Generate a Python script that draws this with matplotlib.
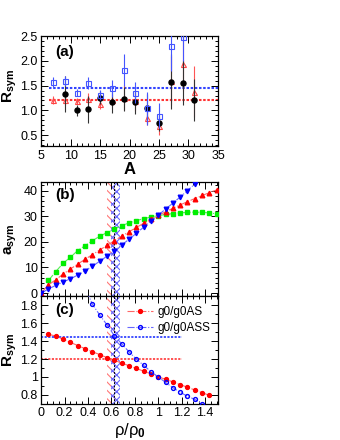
import matplotlib
matplotlib.use("Agg")
import matplotlib.pyplot as plt
from matplotlib.ticker import MultipleLocator
import numpy as np

plt.rcParams['font.family'] = ['Liberation Sans', 'DejaVu Sans']
plt.rcParams['mathtext.fontset'] = 'custom'
plt.rcParams['mathtext.rm'] = 'Liberation Sans'
plt.rcParams['mathtext.it'] = 'Liberation Sans:italic'
plt.rcParams['mathtext.bf'] = 'Liberation Sans:bold'
plt.rcParams['hatch.linewidth'] = 0.8

nan = np.nan

# (a) R_sym against mass number
mass = [7, 9, 11, 13, 15, 17, 19, 21, 23, 25, 27, 29, 31]
r_circ = [nan, 1.33, 1.00, 1.02, 1.26, 1.16, 1.23, 1.16, 1.04, 0.74, 1.58, 1.56, 1.21]
r_circ_err = [nan, 0.36, 0.11, 0.28, 0.13, 0.22, 0.25, 0.23, 0.30, 0.16, 0.55, 0.45, 0.43]
r_tri = [1.21, 1.21, 1.19, 1.24, 1.12, 1.21, 1.26, 1.18, 0.85, 0.69, 1.60, 1.94, 1.38]
r_tri_err = [0.08, 0.10, 0.07, 0.12, 0.10, 0.12, 0.25, 0.20, 0.15, 0.18, 0.50, 0.55, 0.52]
r_sq = [1.58, 1.60, 1.36, 1.55, 1.31, 1.45, 1.81, 1.36, 1.04, 0.89, 2.30, 2.49, nan]
r_sq_err = [0.10, 0.10, 0.07, 0.12, 0.10, 0.17, 0.32, 0.22, 0.33, 0.25, 0.50, 0.50, nan]
r_mean_sq = 1.45
r_mean_tri = 1.20

# (b) a_sym against density, step 1/16
rho = np.arange(25) / 16.0
a_green = [nan, 4.9, 8.4, 11.6, 14.0, 16.6, 18.5, 20.4, 22.2, 23.6, 25.0, 26.3, 27.4,
           28.3, 29.0, 29.7, 30.2, 30.7, 31.0, 31.3, 31.5, 31.6, 31.5, 31.3, 30.9]
a_red = [0.0, 3.2, 5.2, 7.4, 9.4, 11.3, 13.2, 15.0, 16.8, 18.6, 20.4, 22.2, 23.9,
         25.6, 27.2, 28.8, 30.3, 31.7, 33.1, 34.4, 35.7, 36.9, 38.1, 39.2, 40.3]
a_blue = [0.0, 1.6, 3.0, 4.3, 5.6, 7.0, 8.7, 10.5, 12.4, 14.4, 16.4, 18.7, 21.0,
          23.3, 25.7, 28.1, 30.4, 32.8, 35.1, 37.5, 40.0, 42.6, 45.2, 47.8, 50.4]

# (c) ratios
rc_as = [nan, 1.475, 1.455, 1.42, 1.385, 1.35, 1.315, 1.28, 1.25, 1.215, 1.185, 1.155, 1.125,
         1.095, 1.065, 1.035, 1.0, 0.975, 0.945, 0.915, 0.885, 0.855, 0.825, 0.795, nan]
rc_ass = [nan, 3.2, 2.8, 2.6, 2.4, 2.2, 2.0, 1.81, 1.69, 1.58, 1.46, 1.37, 1.28,
          1.20, 1.13, 1.06, 1.0, 0.94, 0.88, 0.83, 0.785, 0.75, 0.70, 0.66, nan]

band_red = (0.56, 0.64)
band_blue = (0.60, 0.67)
rho_mark = 0.62

RED = '#ff0000'
BLUE = '#0000ff'
GREEN = '#00ee00'


def root_ticks(ax, xmaj, xmin, ymaj, ymin):
    ax.xaxis.set_major_locator(MultipleLocator(xmaj))
    ax.xaxis.set_minor_locator(MultipleLocator(xmin))
    ax.yaxis.set_major_locator(MultipleLocator(ymaj))
    ax.yaxis.set_minor_locator(MultipleLocator(ymin))
    ax.tick_params(which='both', direction='in', top=True, right=True, labelsize=9, width=0.7, pad=2.5)
    ax.tick_params(which='major', length=5)
    ax.tick_params(which='minor', length=2.5)
    for s in ax.spines.values():
        s.set_linewidth(0.9)


fig = plt.figure(figsize=(3.4, 4.4), dpi=100)
ax_a = fig.add_axes([0.121, 0.668, 0.520, 0.250])
ax_b = fig.add_axes([0.121, 0.327, 0.520, 0.259])
ax_c = fig.add_axes([0.121, 0.082, 0.520, 0.245], sharex=ax_b)

# panel (a)
ax_a.hlines(r_mean_sq, 6.3, 35, colors='#3344ff', linestyles=(0, (1.2, 0.8)), lw=1.5, zorder=1)
ax_a.hlines(r_mean_tri, 6.3, 35, colors='#ff3333', linestyles=(0, (1.2, 0.8)), lw=1.5, zorder=1)
ax_a.errorbar(mass, r_tri, yerr=r_tri_err, fmt='^', ms=3.6, mfc='none', mec='#ff4444',
              ecolor='#ff5555', elinewidth=0.8, mew=0.8, zorder=3)
ax_a.errorbar(mass, r_circ, yerr=r_circ_err, fmt='o', ms=3.6, color='k',
              ecolor='#333333', elinewidth=0.8, zorder=4)
ax_a.errorbar(mass, r_sq, yerr=r_sq_err, fmt='s', ms=3.6, mfc='none', mec='#4455ff',
              ecolor='#4455ff', elinewidth=0.8, mew=0.8, zorder=5)
ax_a.set_xlim(5, 35)
ax_a.set_ylim(0.28, 2.5)
root_ticks(ax_a, 5, 1, 0.5, 0.1)
ax_a.set_xlabel('A', fontsize=12, fontweight='bold', labelpad=0)
ax_a.set_ylabel(r'R$_{\mathbf{sym}}$', fontsize=11, fontweight='bold')
ax_a.yaxis.set_label_coords(-0.125, 0.55)
ax_a.text(0.08, 0.92, '(a)', transform=ax_a.transAxes, fontsize=11, fontweight='bold', va='top')

# panel (b)
for ax in (ax_b, ax_c):
    ax.axvspan(*band_red, facecolor='none', edgecolor='#ff7777', hatch='\\\\\\\\', lw=0, zorder=0)
    ax.axvspan(*band_blue, facecolor='none', edgecolor='#6666ff', hatch='xxxx', lw=0, zorder=0)
    ax.axvline(rho_mark, color='k', ls=(0, (2, 1.5)), lw=0.7, zorder=0.5)

ax_b.plot(rho, a_green, ls='-.', lw=0.8, color='#55ee55', marker='s', ms=3.3, mfc=GREEN, mec=GREEN, zorder=3)
ax_b.plot(rho, a_red, ls='-.', lw=0.8, color='#ff6666', marker='^', ms=3.3, mfc=RED, mec=RED, zorder=3)
ax_b.plot(rho, a_blue, ls='-.', lw=0.8, color='#6666ff', marker='v', ms=3.3, mfc=BLUE, mec=BLUE, zorder=3)
ax_b.set_ylim(-1.2, 43.3)
root_ticks(ax_b, 0.2, 0.05, 10, 2)
ax_b.tick_params(labelbottom=False)
ax_b.set_ylabel(r'a$_{\mathbf{sym}}$', fontsize=11, fontweight='bold')
ax_b.yaxis.set_label_coords(-0.125, 0.5)
ax_b.text(0.08, 0.95, '(b)', transform=ax_b.transAxes, fontsize=11, fontweight='bold', va='top')

# panel (c)
ax_c.hlines(r_mean_sq, 0, 1.2, colors='#3344ff', linestyles=(0, (1.2, 0.8)), lw=1.3, zorder=1)
ax_c.hlines(r_mean_tri, 0, 1.2, colors='#ff4444', linestyles=(0, (1.2, 0.8)), lw=1.3, zorder=1)
ax_c.plot(rho, rc_as, ls='-.', lw=0.8, color='#ff6666', marker='o', ms=2.8, mfc=RED, mec=RED,
          zorder=3, label='g0/g0AS')
ax_c.plot(rho, rc_ass, ls='-.', lw=0.8, color='#6666ff', marker='o', ms=2.8, mfc='none', mec=BLUE,
          zorder=3, label='g0/g0ASS')
ax_c.set_xlim(0, 1.51)
ax_c.set_ylim(0.7, 1.9)
root_ticks(ax_c, 0.2, 0.05, 0.2, 0.1)
ax_c.set_xticks([0, 0.2, 0.4, 0.6, 0.8, 1.0, 1.2, 1.4])
ax_c.set_xticklabels(['0', '0.2', '0.4', '0.6', '0.8', '1', '1.2', '1.4'])
ax_c.set_yticks([0.8, 1.0, 1.2, 1.4, 1.6, 1.8])
ax_c.set_yticklabels(['0.8', '1', '1.2', '1.4', '1.6', '1.8'])
ax_c.set_xlabel(r'$\mathregular{\rho/\rho_{\mathbf{0}}}$', fontsize=12, labelpad=1)
ax_c.set_ylabel(r'R$_{\mathbf{sym}}$', fontsize=11, fontweight='bold')
ax_c.yaxis.set_label_coords(-0.125, 0.5)
ax_c.text(0.08, 0.94, '(c)', transform=ax_c.transAxes, fontsize=11, fontweight='bold', va='top')
ax_c.legend(loc='upper right', bbox_to_anchor=(1.0, 0.97), frameon=False, fontsize=8.5,
            handlelength=2.2, handletextpad=0.4, labelspacing=0.3, borderaxespad=0.2)

fig.savefig('out.png', dpi=100)
